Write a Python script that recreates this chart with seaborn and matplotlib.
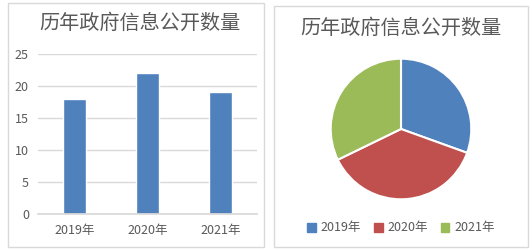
import matplotlib
matplotlib.use("Agg")
import matplotlib.pyplot as plt
import seaborn as sns
from matplotlib.patches import Rectangle, Patch

years = ["2019年", "2020年", "2021年"]
counts = [18, 22, 19]
yticks = [0, 5, 10, 15, 20, 25]
title = "历年政府信息公开数量"
colors = ["#4F81BD", "#C0504D", "#9BBB59"]

sns.set_theme(style="white")
plt.rcParams['font.family'] = ['Noto Sans CJK SC', 'DejaVu Sans']
text_c = "#595959"

W, H = 532, 250
fig = plt.figure(figsize=(W / 100, H / 100), dpi=100)
fig.patch.set_facecolor("white")

def px(l, t, r, b):
    return [l / W, 1 - b / H, (r - l) / W, (b - t) / H]

# panel borders
for (l, t, r, b) in [(8, 3, 264, 247), (274, 6, 528, 247)]:
    fig.add_artist(Rectangle((l / W, 1 - b / H), (r - l) / W, (b - t) / H,
                             transform=fig.transFigure, fill=False,
                             edgecolor="#D9D9D9", linewidth=1.0))

# bar chart
ax = fig.add_axes(px(38, 54, 257, 214))
sns.barplot(x=years, y=counts, color=colors[0], width=0.31, ax=ax, saturation=1)
ax.set_ylim(0, 25)
ax.set_yticks(yticks)
ax.set_yticklabels([str(v) for v in yticks], color=text_c, fontsize=9)
ax.tick_params(axis='x', colors=text_c, labelsize=9, length=0, pad=7)
ax.tick_params(axis='y', length=0, pad=6.5)
ax.yaxis.grid(True, color="#D9D9D9", linewidth=1)
ax.set_axisbelow(True)
for s in ["top", "right", "left"]:
    ax.spines[s].set_visible(False)
ax.spines["bottom"].set_color("#D9D9D9")
ax.set_xlabel("")
ax.set_ylabel("")
fig.text(140 / W, 1 - 23 / H, title, ha="center", va="center", fontsize=14.5, color=text_c)

# pie chart
pax = fig.add_axes(px(330, 58, 472, 200))
pax.pie(counts, colors=colors, startangle=90, counterclock=False,
        wedgeprops=dict(edgecolor="white", linewidth=1.5))
pax.set_xlim(-1.01, 1.01)
pax.set_ylim(-1.01, 1.01)
pax.set_aspect("equal")
fig.text(401 / W, 1 - 28 / H, title, ha="center", va="center", fontsize=14.5, color=text_c)
handles = [Patch(facecolor=c, edgecolor=c) for c in colors]
fig.legend(handles, years, loc="center", bbox_to_anchor=(401 / W, 1 - 228 / H),
           ncol=3, frameon=False, fontsize=9, labelcolor=text_c,
           handlelength=0.7, handleheight=0.7, handletextpad=0.4, columnspacing=1.0)

fig.savefig("out.png", dpi=100)
